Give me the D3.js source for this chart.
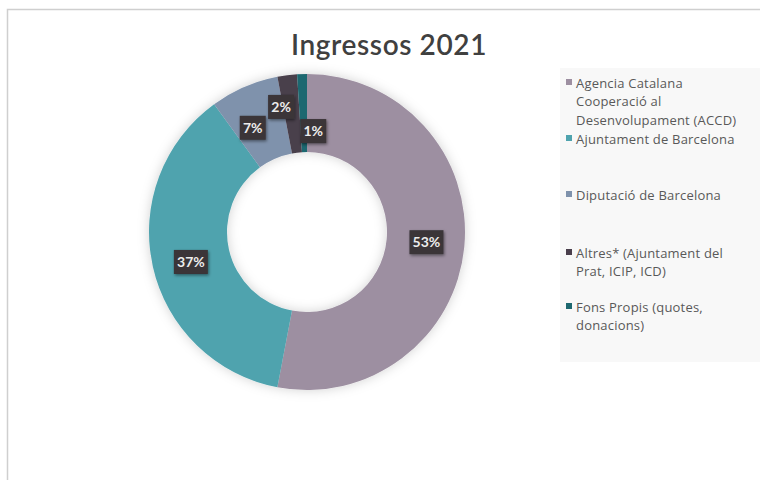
<!DOCTYPE html>
<html><head><meta charset="utf-8">
<script src="https://cdn.jsdelivr.net/npm/d3@7"></script>
<style>html,body{margin:0;padding:0;background:#fff;}svg{display:block;}</style>
</head><body>
<svg id="chart" width="760" height="480"></svg>
<script>
const categories = [
  "Agencia Catalana Cooperació al Desenvolupament (ACCD)",
  "Ajuntament de Barcelona",
  "Diputació de Barcelona",
  "Altres* (Ajuntament del Prat, ICIP, ICD)",
  "Fons Propis (quotes, donacions)"
];
const values = [53, 37, 7, 2, 1];
const legendLines = [
  ["Agencia Catalana", "Cooperació al", "Desenvolupament (ACCD)"],
  ["Ajuntament de Barcelona"],
  ["Diputació de Barcelona"],
  ["Altres* (Ajuntament del", "Prat, ICIP, ICD)"],
  ["Fons Propis (quotes,", "donacions)"]
];
const title = "Ingressos 2021";

// style / layout config
const colors = ["#9d8fa1", "#4fa3ae", "#7f92ac", "#4a3f4c", "#1e6870"];
const labelShift = [[1,-1],[0,4],[-7,5],[-11,-7],[10,18]];
const legendY = [83, 139, 195, 253, 307];

const svg = d3.select("#chart");
const defs = svg.append("defs");
const f = defs.append("filter").attr("id","glow").attr("x","-20%").attr("y","-20%").attr("width","140%").attr("height","140%");
f.append("feGaussianBlur").attr("in","SourceAlpha").attr("stdDeviation",6).attr("result","b");
f.append("feFlood").attr("flood-color","#000").attr("flood-opacity",0.18);
f.append("feComposite").attr("in2","b").attr("operator","in").attr("result","s");
const fm = f.append("feMerge"); fm.append("feMergeNode").attr("in","s"); fm.append("feMergeNode").attr("in","SourceGraphic");
const f2 = defs.append("filter").attr("id","lshadow").attr("x","-30%").attr("y","-30%").attr("width","160%").attr("height","160%");
f2.append("feDropShadow").attr("dx",1).attr("dy",1.5).attr("stdDeviation",1.5).attr("flood-color","#000").attr("flood-opacity",0.45);

// outer frame
svg.append("path").attr("d","M7.5,480 V9.5 H760").attr("fill","none").attr("stroke","#cfcfcf").attr("stroke-width",1.5);

svg.append("text").attr("x",389).attr("y",55).attr("text-anchor","middle")
  .attr("font-family","Lato, 'Open Sans', sans-serif").attr("font-size",28).attr("font-weight",600)
  .attr("letter-spacing",0.6).attr("fill","#404040").text(title);

const cx = 307, cy = 232, rOuter = 158, rInner = 80;
const color = d3.scaleOrdinal().domain(categories).range(colors);
const pie = d3.pie().value(d => d.v).sort(null);
const arcs = pie(categories.map((c,i)=>({c, v: values[i], i})));
const arc = d3.arc().innerRadius(rInner).outerRadius(rOuter);
const labelArc = d3.arc().innerRadius((rInner+rOuter)/2).outerRadius((rInner+rOuter)/2);

const g = svg.append("g").attr("transform",`translate(${cx},${cy})`);
g.append("g").attr("filter","url(#glow)").selectAll("path").data(arcs).join("path")
  .attr("d", arc).attr("fill", d => color(d.data.c));

const total = d3.sum(values);
const lab = g.selectAll("g.lab").data(arcs).join("g").attr("class","lab")
  .attr("transform", d => { const [x,y] = labelArc.centroid(d); const s = labelShift[d.index]; return `translate(${x+s[0]},${y+s[1]})`; });
lab.each(function(d){
  const t = d3.format(".0%")(d.data.v/total);
  const w = t.length*8 + 10;
  const sel = d3.select(this);
  sel.append("rect").attr("x",-w/2).attr("y",-12).attr("width",w).attr("height",24)
    .attr("fill","#3a3437").attr("filter","url(#lshadow)");
  sel.append("text").attr("text-anchor","middle").attr("dy","0.36em")
    .attr("font-family","Lato, sans-serif").attr("font-size",14).attr("font-weight",700)
    .attr("fill","#ececec").text(t);
});

// legend
svg.append("rect").attr("x",560).attr("y",68).attr("width",200).attr("height",294).attr("fill","#f8f8f8");
const lg = svg.append("g").selectAll("g").data(categories).join("g")
  .attr("transform",(d,i)=>`translate(566,${legendY[i]})`);
lg.append("rect").attr("x",0).attr("y",-4).attr("width",6).attr("height",6).attr("fill",d=>color(d));
lg.append("text").attr("x",10).attr("font-family","'Open Sans', sans-serif").attr("font-size",13)
  .attr("fill","#595959").attr("letter-spacing",0.2)
  .selectAll("tspan").data((d,i)=>legendLines[i]).join("tspan")
  .attr("x",10).attr("dy",(d,j)=> j===0 ? "0.35em" : "18.5px").text(d=>d);
</script>
</body></html>
